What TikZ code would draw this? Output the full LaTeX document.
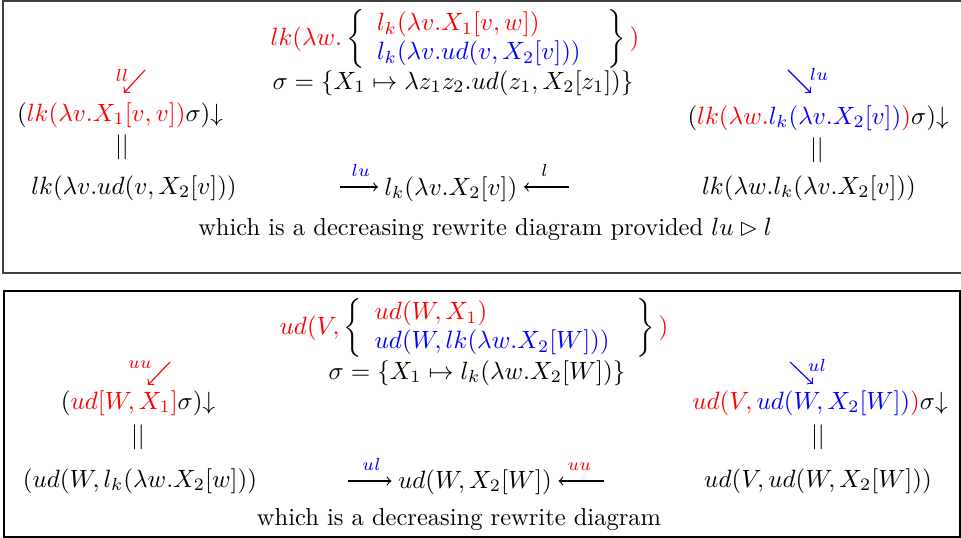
\documentclass[tikz,border=0pt]{standalone}
\usepackage{amsmath,amssymb}
\begin{document}
\begin{tikzpicture}[
  x=0.4pt,y=-0.4pt,
  every node/.style={inner sep=1pt,font=\fontsize{9.8}{11.6}\selectfont},
  frame/.style={draw=black!75,line width=0.6pt},
  lab/.style={inner sep=0.5pt,font=\fontsize{7.5}{9}\selectfont},
  rew/.style={->,line width=0.45pt,shorten >=1.5pt}
]
\useasboundingbox (0,0) rectangle (961,538);
\draw[frame] (3,1) rectangle (966,273);
\draw[frame,draw=black] (4,291) rectangle (960,537);

% first diagram
\node (top1) at (455,39) {$\textcolor{red}{lk(\lambda w.}\left\{\begin{array}{l}\textcolor{red}{l_k(\lambda v.X_1[v,w])}\\ \textcolor{blue}{l_k(\lambda v.ud(v,X_2[v]))}\end{array}\;\;\right\}\textcolor{red}{)}$};
\node (sig1) at (453,83) {$\sigma=\{X_1\mapsto\lambda z_1z_2.ud(z_1,X_2[z_1])\}$};
\node (lt1) at (120,115) {$(\textcolor{red}{lk(\lambda v.X_1[v,v])}\sigma){\downarrow}$};
\node (eq1) at (122,147) {$||$};
\node (lr1) at (134,188) {$lk(\lambda v.ud(v,X_2[v]))$};
\node (rt1) at (818,118) {$(\textcolor{red}{lk(\lambda w.\textcolor{blue}{l_k(\lambda v.X_2[v])})}\sigma){\downarrow}$};
\node (eq2) at (817,150) {$||$};
\node (rr1) at (809,188) {$lk(\lambda w.l_k(\lambda v.X_2[v]))$};
\node (jn1) at (451,189) {$l_k(\lambda v.X_2[v])$};
\node (cap1) at (485,229) {which is a decreasing rewrite diagram provided $lu\rhd l$};

\node[lab,red] (ll) at (122,75) {$ll$};
\coordinate (ll0) at (145,70);
\coordinate (ll1) at (124,93);
\draw[rew,red,shorten >=0pt] (ll0) -- (ll1);
\node[lab,blue] (lu) at (819,74) {$lu$};
\coordinate (lu0) at (788,70);
\coordinate (lu1) at (811,93);
\draw[rew,blue,shorten >=0pt] (lu0) -- (lu1);
\coordinate (a1) at (340,187);
\coordinate (b1) at (569,187);
\draw[rew] (a1) -- node[lab,above=3.5pt,blue] {$lu$} (a1 -| jn1.west);
\draw[rew] (b1) -- node[lab,above=3.5pt] {$l$} (b1 -| jn1.east);

% second diagram
\node (top2) at (474,328) {$\textcolor{red}{ud(V,}\left\{\begin{array}{l}\textcolor{red}{ud(W,X_1)}\\ \textcolor{blue}{ud(W,lk(\lambda w.X_2[W]))}\end{array}\;\;\right\}\textcolor{red}{)}$};
\node (sig2) at (477,373) {$\sigma=\{X_1\mapsto l_k(\lambda w.X_2[W])\}$};
\node (lt2) at (138,403) {$(\textcolor{red}{ud[W,X_1]}\sigma){\downarrow}$};
\node (eq3) at (138,437) {$||$};
\node (lr2) at (140,481) {$(ud(W,l_k(\lambda w.X_2[w]))$};
\node (rt2) at (820,403) {$\textcolor{red}{ud(V,\textcolor{blue}{ud(W,X_2[W])})}\sigma{\downarrow}$};
\node (eq4) at (818,437) {$||$};
\node (rr2) at (818,481) {$ud(V,ud(W,X_2[W]))$};
\node (jn2) at (475,482) {$ud(W,X_2[W])$};
\node (cap2) at (459,520) {which is a decreasing rewrite diagram};

\node[lab,red] (uu) at (140,365) {$uu$};
\coordinate (uu0) at (170,362);
\coordinate (uu1) at (148,385);
\draw[rew,red,shorten >=0pt] (uu0) -- (uu1);
\node[lab,blue] (ul) at (817,365) {$ul$};
\coordinate (ul0) at (790,362);
\coordinate (ul1) at (813,384);
\draw[rew,blue,shorten >=0pt] (ul0) -- (ul1);
\coordinate (a2) at (348,481);
\coordinate (b2) at (604,481);
\draw[rew] (a2) -- node[lab,above=3.5pt,blue] {$ul$} (a2 -| jn2.west);
\draw[rew] (b2) -- node[lab,above=3.5pt,red] {$uu$} (b2 -| jn2.east);
\end{tikzpicture}
\end{document}
